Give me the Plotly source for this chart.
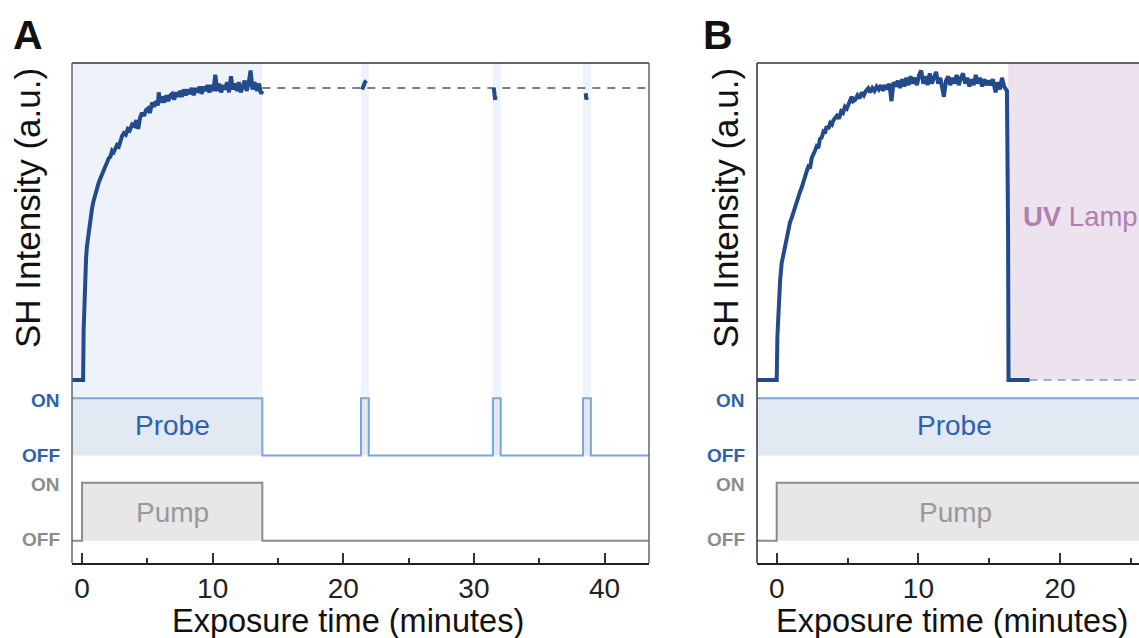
import plotly.graph_objects as go

W, H = 1139, 638

# ---------------- data ----------------
# Panel A: SH intensity (normalised a.u.) vs exposure time (minutes)
a_time = [
    -0.77, 0.08, 0.12, 0.18, 0.25, 0.31, 0.38, 0.51, 0.64, 0.77,
    0.89, 1.02, 1.15, 1.27, 1.40, 1.53, 1.66, 1.80, 1.91, 2.05,
    2.17, 2.30, 2.42, 2.55, 2.68, 2.82, 2.95, 3.06, 3.20, 3.35,
    3.50, 3.65, 3.83, 4.00, 4.15, 4.30, 4.45, 4.59, 4.75, 4.90,
    5.05, 5.20, 5.36, 5.50, 5.65, 5.80, 5.87, 6.00, 6.15, 6.30,
    6.45, 6.60, 6.76, 6.90, 7.05, 7.20, 7.35, 7.50, 7.65, 7.78,
    7.95, 8.10, 8.25, 8.40, 8.55, 8.70, 8.85, 9.00, 9.15, 9.31,
    9.45, 9.60, 9.75, 9.90, 10.05, 10.20, 10.35, 10.50, 10.65, 10.80,
    10.95, 11.10, 11.25, 11.40, 11.55, 11.70, 11.87, 12.00, 12.15, 12.30,
    12.45, 12.60, 12.75, 12.90, 13.05, 13.20, 13.40, 13.55, 13.70, 13.80,
]
a_signal = [
    0.000, 0.000, 0.170, 0.300, 0.390, 0.420, 0.460, 0.510, 0.550, 0.590,
    0.615, 0.640, 0.655, 0.675, 0.690, 0.705, 0.720, 0.735, 0.745, 0.760,
    0.765, 0.785, 0.780, 0.795, 0.805, 0.800, 0.825, 0.835, 0.845, 0.840,
    0.860, 0.855, 0.875, 0.870, 0.890, 0.860, 0.900, 0.915, 0.905, 0.925,
    0.930, 0.915, 0.950, 0.935, 0.955, 0.940, 0.985, 0.950, 0.970, 0.950,
    0.975, 0.955, 0.975, 0.980, 0.960, 0.985, 0.970, 0.990, 0.970, 0.995,
    0.975, 0.995, 0.980, 1.000, 0.975, 1.000, 0.985, 1.005, 0.980, 1.005,
    0.990, 1.010, 0.985, 1.010, 0.990, 1.045, 0.990, 1.015, 0.985, 1.010,
    0.995, 1.020, 0.985, 1.040, 0.995, 1.015, 0.990, 1.020, 0.985, 1.010,
    1.025, 0.990, 1.015, 1.060, 0.995, 1.020, 0.990, 1.015, 0.980, 0.990,
]
a_blip_time = [21.44, 21.55, 21.66, 21.77, None, 31.52, 31.57, 31.62, 31.66, None,
               38.56, 38.60, 38.64]
a_blip_signal = [0.995, 1.010, 1.020, 1.025, None, 1.000, 0.985, 0.960, 0.972, None,
                 0.982, 0.960, 0.968]
a_plateau = 1.0
a_ref_start = 13.8
a_probe_time = [-0.77, 13.8, 21.35, 21.95, 31.45, 32.05, 38.35, 38.95, 43.4]
a_probe_state = [1, 0, 1, 0, 1, 0, 1, 0, 0]
a_pump_time = [-0.77, 0.0, 13.8, 43.4]
a_pump_state = [0, 1, 0, 0]
a_xrange = [-0.77, 43.4]

# Panel B
b_time = [
    -1.39, 0.00, 0.05, 0.12, 0.24, 0.35, 0.47, 0.59, 0.70, 0.82,
    0.94, 1.06, 1.18, 1.30, 1.42, 1.53, 1.65, 1.77, 1.88, 2.00,
    2.12, 2.23, 2.35, 2.47, 2.59, 2.70, 2.82, 2.94, 3.05, 3.17,
    3.30, 3.41, 3.52, 3.65, 3.78, 3.90, 4.00, 4.11, 4.25, 4.40,
    4.55, 4.68, 4.82, 4.95, 5.10, 5.29, 5.40, 5.55, 5.70, 5.85,
    6.00, 6.15, 6.30, 6.46, 6.60, 6.75, 6.90, 7.05, 7.20, 7.35,
    7.50, 7.65, 7.80, 7.95, 8.10, 8.25, 8.40, 8.55, 8.70, 8.85,
    9.00, 9.15, 9.30, 9.45, 9.60, 9.75, 9.90, 10.05, 10.20, 10.35,
    10.50, 10.65, 10.80, 10.95, 11.10, 11.25, 11.40, 11.55, 11.80, 11.95,
    12.10, 12.25, 12.40, 12.55, 12.70, 12.85, 13.00, 13.15, 13.30, 13.45,
    13.60, 13.75, 13.90, 14.05, 14.20, 14.35, 14.50, 14.65, 14.80, 14.95,
    15.10, 15.25, 15.45, 15.60, 15.75, 15.90, 16.05, 16.15, 16.25, 16.33,
    16.36, 17.85,
]
b_signal = [
    0.000, 0.000, 0.150, 0.250, 0.340, 0.400, 0.430, 0.460, 0.490, 0.520,
    0.540, 0.555, 0.575, 0.595, 0.610, 0.630, 0.645, 0.660, 0.680, 0.690,
    0.715, 0.730, 0.725, 0.760, 0.770, 0.785, 0.800, 0.795, 0.825, 0.830,
    0.850, 0.845, 0.868, 0.860, 0.880, 0.875, 0.890, 0.896, 0.905, 0.895,
    0.920, 0.915, 0.936, 0.930, 0.945, 0.970, 0.955, 0.960, 0.975, 0.965,
    0.985, 0.975, 0.990, 0.999, 0.985, 1.000, 0.990, 1.005, 0.995, 1.010,
    0.990, 1.010, 0.995, 1.015, 0.955, 1.020, 1.005, 1.025, 1.000, 1.030,
    1.005, 1.035, 1.010, 1.040, 1.015, 1.035, 1.010, 1.045, 1.060, 1.015,
    1.040, 1.010, 1.050, 1.015, 1.035, 1.055, 1.015, 1.035, 0.970, 1.025,
    1.040, 1.010, 1.035, 1.015, 1.045, 1.010, 1.035, 1.050, 1.015, 1.035,
    1.005, 1.030, 1.010, 1.045, 1.015, 1.035, 1.005, 1.030, 1.010, 1.025,
    1.010, 1.030, 0.985, 1.020, 0.995, 1.035, 1.005, 0.995, 0.990, 0.500,
    0.000, 0.000,
]
b_baseline = 0.0
b_ref_start = 17.85
b_uv_start = 16.33
b_probe_time = [-1.39, 25.57]
b_probe_state = [1, 1]
b_pump_time = [-1.39, 0.0, 25.57]
b_pump_state = [0, 1, 1]
b_xrange = [-1.39, 25.57]

tick_vals = [0, 10, 20, 30, 40]
tick_text = ["0", "10", "20", "30", "40"]

# ---------------- styling ----------------
FONT = "Liberation Sans, Arial, Helvetica, sans-serif"
TRACE = "#234b8b"
PROBE_LINE = "#7ba6d9"
PROBE_FILL = "#e2e9f3"
PROBE_TXT = "#2f62a8"
STRIP = "#eef3f9"
PUMP_LINE = "#8c8c8c"
PUMP_FILL = "#e7e7e7"
PUMP_TXT = "#999999"
UV_FILL = "#ede3ee"
UV_TXT = "#b07fb0"


def fx(px):
    return px / W


def fy(py):
    return 1 - py / H


# pixel layout of the stacked rows
TOP, BOT = 63, 563
INT_DOM = (63, 390); INT_BASE, INT_UNIT = 380, 292
PRB_DOM = (390, 463); PRB_OFF, PRB_ON = 455.5, 398.3
PMP_DOM = (463, 563); PMP_OFF, PMP_ON = 540.7, 482.7


def yax(dom, lo_val, hi_val, anchor):
    return dict(domain=[fy(dom[1]), fy(dom[0])], range=[lo_val, hi_val],
                anchor=anchor, visible=False, showgrid=False, zeroline=False,
                fixedrange=True)


def int_range():
    return [(INT_BASE - INT_DOM[1]) / INT_UNIT, (INT_BASE - INT_DOM[0]) / INT_UNIT]


def prb_range():
    u = PRB_OFF - PRB_ON
    return [-(PRB_DOM[1] - PRB_OFF) / u, 1 + (PRB_ON - PRB_DOM[0]) / u]


def pmp_range():
    u = PMP_OFF - PMP_ON
    return [-(PMP_DOM[1] - PMP_OFF) / u, 1 + (PMP_ON - PMP_DOM[0]) / u]


fig = go.Figure()

# ---- Panel A traces ----
fig.add_trace(go.Scatter(x=a_probe_time, y=a_probe_state, xaxis="x", yaxis="y2",
                         mode="lines", line=dict(color=PROBE_LINE, width=2, shape="hv"),
                         fill="tozeroy", fillcolor=PROBE_FILL, showlegend=False))
fig.add_trace(go.Scatter(x=a_pump_time, y=a_pump_state, xaxis="x", yaxis="y3",
                         mode="lines", line=dict(color=PUMP_LINE, width=2, shape="hv"),
                         fill="tozeroy", fillcolor=PUMP_FILL, showlegend=False))
fig.add_trace(go.Scatter(x=[a_ref_start, a_xrange[1]], y=[a_plateau, a_plateau],
                         xaxis="x", yaxis="y", mode="lines",
                         line=dict(color="#555555", width=1.5, dash="8px,7px"),
                         showlegend=False))
fig.add_trace(go.Scatter(x=a_time, y=a_signal, xaxis="x", yaxis="y", mode="lines",
                         line=dict(color=TRACE, width=4), showlegend=False))
fig.add_trace(go.Scatter(x=a_blip_time, y=a_blip_signal, xaxis="x", yaxis="y",
                         mode="lines", line=dict(color=TRACE, width=4),
                         connectgaps=False, showlegend=False))

# ---- Panel B traces ----
fig.add_trace(go.Scatter(x=b_probe_time, y=b_probe_state, xaxis="x2", yaxis="y5",
                         mode="lines", line=dict(color=PROBE_LINE, width=2, shape="hv"),
                         fill="tozeroy", fillcolor=PROBE_FILL, showlegend=False))
fig.add_trace(go.Scatter(x=b_pump_time, y=b_pump_state, xaxis="x2", yaxis="y6",
                         mode="lines", line=dict(color=PUMP_LINE, width=2, shape="hv"),
                         fill="tozeroy", fillcolor=PUMP_FILL, showlegend=False))
fig.add_trace(go.Scatter(x=[b_ref_start, b_xrange[1]], y=[b_baseline, b_baseline],
                         xaxis="x2", yaxis="y4", mode="lines",
                         line=dict(color="#7f9cc8", width=1.5, dash="8px,6px"),
                         showlegend=False))
fig.add_trace(go.Scatter(x=b_time, y=b_signal, xaxis="x2", yaxis="y4", mode="lines",
                         line=dict(color=TRACE, width=4), showlegend=False))

# ---- shapes ----
shapes = []
for i in range(len(a_probe_time) - 1):
    if a_probe_state[i] == 1:
        shapes.append(dict(type="rect", xref="x", yref="paper",
                           x0=a_probe_time[i], x1=a_probe_time[i + 1],
                           y0=fy(PRB_ON), y1=fy(TOP), fillcolor=STRIP,
                           line=dict(width=0), layer="below"))
shapes.append(dict(type="rect", xref="x2", yref="paper", x0=b_uv_start, x1=b_xrange[1],
                   y0=fy(INT_BASE), y1=fy(TOP), fillcolor=UV_FILL,
                   line=dict(width=0), layer="below"))
A_L, A_R = 72, 649
B_L, B_R = 757, W
shapes.append(dict(type="line", xref="paper", yref="paper", x0=fx(A_L), x1=fx(A_R),
                   y0=fy(TOP), y1=fy(TOP), line=dict(color="#333333", width=1.5)))
shapes.append(dict(type="line", xref="paper", yref="paper", x0=fx(A_L), x1=fx(A_L),
                   y0=fy(TOP), y1=fy(BOT), line=dict(color="#666666", width=1.5)))
shapes.append(dict(type="line", xref="paper", yref="paper", x0=fx(A_R), x1=fx(A_R),
                   y0=fy(TOP), y1=fy(BOT), line=dict(color="#666666", width=1.5)))
shapes.append(dict(type="line", xref="paper", yref="paper", x0=fx(B_L), x1=fx(B_R),
                   y0=fy(TOP), y1=fy(TOP), line=dict(color="#333333", width=1.5)))
shapes.append(dict(type="line", xref="paper", yref="paper", x0=fx(B_L), x1=fx(B_L),
                   y0=fy(TOP), y1=fy(BOT), line=dict(color="#333333", width=1.5)))

# ---- annotations ----
ann = []


def text(x, y, s, size, color, xanchor="center", bold=False, angle=0):
    ann.append(dict(x=fx(x), y=fy(y), xref="paper", yref="paper", text=s,
                    showarrow=False, xanchor=xanchor, yanchor="middle",
                    textangle=angle,
                    font=dict(family=FONT, size=size, color=color,
                              weight="bold" if bold else "normal")))


text(28, 35, "A", 41, "#111111", bold=True)
text(718, 35, "B", 41, "#111111", bold=True)
text(28, 208, "SH Intensity (a.u.)", 35, "#111111", angle=-90)
text(726, 208, "SH Intensity (a.u.)", 35, "#111111", angle=-90)
text(348, 621, "Exposure time (minutes)", 32.5, "#111111")
text(952, 621, "Exposure time (minutes)", 32.5, "#111111")
for xr in (62, 747):
    text(xr, 400, "ON", 19, PROBE_TXT, xanchor="right", bold=True)
    text(xr, 455, "OFF", 19, PROBE_TXT, xanchor="right", bold=True)
    text(xr, 484, "ON", 19, PUMP_LINE, xanchor="right", bold=True)
    text(xr, 539, "OFF", 19, PUMP_LINE, xanchor="right", bold=True)
text(172, 425, "Probe", 28, PROBE_TXT)
text(172, 512, "Pump", 28, PUMP_TXT)
text(954, 425, "Probe", 28, PROBE_TXT)
text(955, 512, "Pump", 28, PUMP_TXT)
text(1021, 217, "<b>UV</b> Lamp", 27.5, UV_TXT, xanchor="left")

xcommon = dict(ticks="inside", ticklen=10, tickwidth=1.5, tickcolor="#333333",
               tickvals=tick_vals, ticktext=tick_text,
               minor=dict(ticks="inside", ticklen=5, dtick=5, tick0=0,
                          tickcolor="#333333", tickwidth=1.5),
               showline=True, linecolor="#222222", linewidth=1.5,
               showgrid=False, zeroline=False, fixedrange=True,
               tickfont=dict(family=FONT, size=28, color="#222222"))

fig.update_layout(
    width=W, height=H, margin=dict(l=0, r=0, t=0, b=0),
    paper_bgcolor="white", plot_bgcolor="rgba(0,0,0,0)",
    showlegend=False,
    xaxis=dict(domain=[fx(A_L), fx(A_R)], range=a_xrange, anchor="y3", **xcommon),
    xaxis2=dict(domain=[fx(B_L), 1.0], range=b_xrange, anchor="y6", **xcommon),
    yaxis=yax(INT_DOM, *int_range(), anchor="x"),
    yaxis2=yax(PRB_DOM, *prb_range(), anchor="x"),
    yaxis3=yax(PMP_DOM, *pmp_range(), anchor="x"),
    yaxis4=yax(INT_DOM, *int_range(), anchor="x2"),
    yaxis5=yax(PRB_DOM, *prb_range(), anchor="x2"),
    yaxis6=yax(PMP_DOM, *pmp_range(), anchor="x2"),
    shapes=shapes, annotations=ann,
)

fig.write_html("out.html", config={"displayModeBar": False},
               post_script="document.body.style.margin='0px';document.body.style.overflow='hidden';")
